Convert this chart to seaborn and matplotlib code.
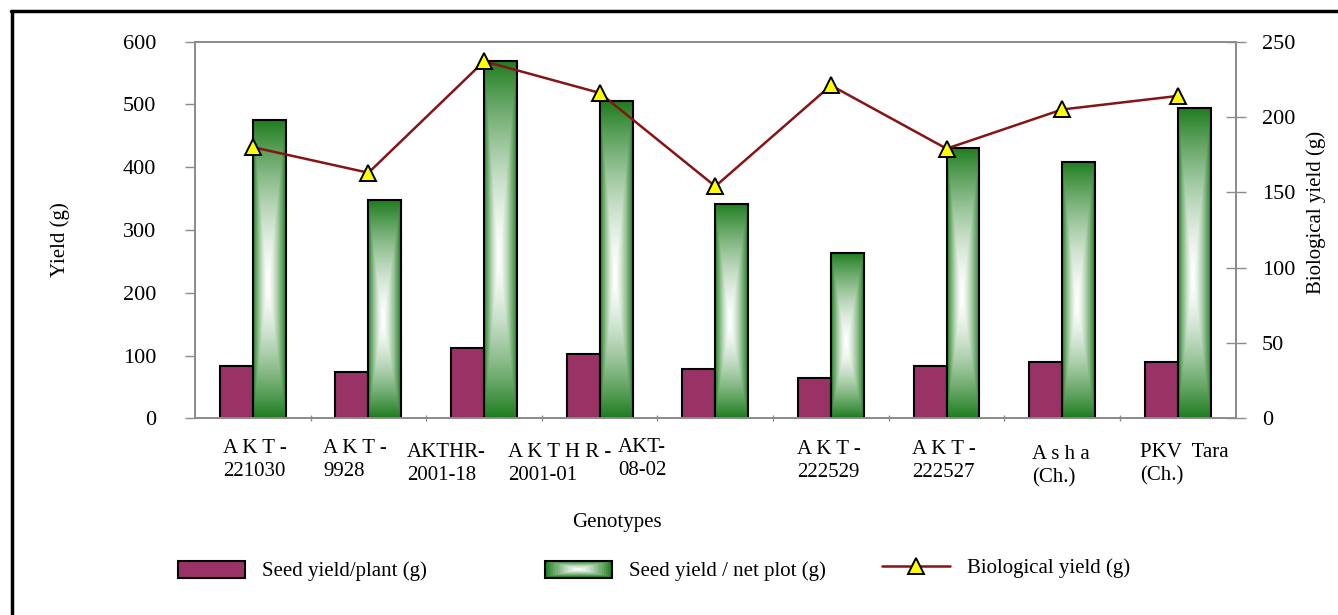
import numpy as np
import pandas as pd
import matplotlib
matplotlib.use("Agg")
import matplotlib.pyplot as plt
import matplotlib.transforms as mtransforms
from matplotlib.patches import Rectangle
from matplotlib.lines import Line2D
from matplotlib.legend_handler import HandlerBase
from matplotlib.colors import to_rgb
import seaborn as sns

# ---- data -------------------------------------------------------------
genotypes = ["AKT-221030", "AKT-9928", "AKTHR-2001-18", "AKTHR-2001-01",
             "AKT-08-02", "AKT-222529", "AKT-222527", "Asha (Ch.)", "PKV Tara (Ch.)"]
tick_labels = ["A K T -\n221030", "A K T -\n9928", "AKTHR-\n2001-18",
               "A K T H R -\n2001-01", "AKT-\n08-02", "A K T -\n222529",
               "A K T -\n222527", "A s h a\n(Ch.)", "PKV  Tara\n(Ch.)"]
seed_per_plant = [84, 74, 112, 103, 78, 65, 84, 90, 90]
seed_per_plot = [475, 347, 569, 505, 341, 264, 431, 408, 495]
biological = [180, 163, 237, 216, 154, 221, 179, 205, 214]

series_names = ["Seed yield/plant (g)", "Seed yield / net plot (g)"]
bio_name = "Biological yield (g)"

# ---- style ------------------------------------------------------------
sns.set_theme(style="white", rc={"text.color": "black",
                                 "axes.labelcolor": "black",
                                 "xtick.color": "black",
                                 "ytick.color": "black"})
plt.rcParams["font.family"] = ["Liberation Serif", "DejaVu Serif"]

PURPLE = "#993366"
GREEN = "#1f7d1f"
MAROON = "#861414"
YELLOW = "#ffff00"
SPINE = "#8c8c8c"

W, H, DPI = 1338, 615, 100
fig = plt.figure(figsize=(W / DPI, H / DPI), dpi=DPI)
ax_l, ax_r, ax_t, ax_b = 195, 1235.6, 41.7, 418.3
ax = fig.add_axes([ax_l / W, 1 - ax_b / H, (ax_r - ax_l) / W, (ax_b - ax_t) / H])

df = pd.DataFrame({
    "Genotype": genotypes * 2,
    "Series": [series_names[0]] * len(genotypes) + [series_names[1]] * len(genotypes),
    "Value": seed_per_plant + seed_per_plot,
})

sns.barplot(data=df, x="Genotype", y="Value", hue="Series", order=genotypes,
            hue_order=series_names, palette=[PURPLE, GREEN], saturation=1,
            width=0.57, errorbar=None, edgecolor="black", linewidth=1.5,
            legend=False, ax=ax)

# rectangular "from centre" gradient fill for the net-plot bars
def centre_gradient(n=256, cx=0.45, cy=0.45, power=1.5):
    u = np.linspace(0, 1, n)
    xx, yy = np.meshgrid(u, u)
    dx = np.where(xx < cx, (cx - xx) / cx, (xx - cx) / (1 - cx))
    dy = np.where(yy < cy, (cy - yy) / cy, (yy - cy) / (1 - cy))
    t = np.clip(np.maximum(dx, dy), 0, 1) ** power
    g = np.array(to_rgb(GREEN))
    return (1 - t)[..., None] * np.ones(3) + t[..., None] * g

grad = centre_gradient()
green_rgb = np.array(to_rgb(GREEN))
for p in list(ax.patches):
    fc = np.array(p.get_facecolor()[:3])
    if np.allclose(fc, green_rgb, atol=0.03):
        bb = p.get_bbox()
        im = ax.imshow(grad, extent=[bb.x0, bb.x1, bb.y0, bb.y1], origin="lower",
                       aspect="auto", interpolation="bilinear",
                       zorder=p.get_zorder() - 0.01)
        im.set_clip_path(p)
        p.set_facecolor("none")

# biological yield on the secondary axis
ax2 = ax.twinx()
sns.pointplot(x=genotypes, y=biological, order=genotypes, ax=ax2, color=MAROON,
              markers="^", linestyles="-", errorbar=None,
              linewidth=1.8, markersize=11, markeredgewidth=1.4)
for ln in ax2.lines:
    ln.set_markerfacecolor(YELLOW)
    ln.set_markeredgecolor("black")
    ln.set_zorder(5)

# ---- axes -------------------------------------------------------------
ax.set_xlim(-0.5, len(genotypes) - 0.5)
ax.set_ylim(0, 600)
ax2.set_ylim(0, 250)
ax.set_yticks(np.arange(0, 601, 100))
ax2.set_yticks(np.arange(0, 251, 50))
ax.set_xticks([])
ax.set_xticks(np.arange(0.5, len(genotypes) - 0.5, 1), minor=True)
ax.tick_params(axis="x", which="minor", direction="inout", length=5, width=1,
               color=SPINE, bottom=True)
ax.tick_params(axis="y", direction="out", length=7, width=1, color=SPINE,
               pad=21, labelsize=16, left=True)
ax2.tick_params(axis="y", direction="inout", length=14, width=1, color=SPINE,
                pad=12, labelsize=16, right=True)

for a in (ax, ax2):
    for s in a.spines.values():
        s.set_color(SPINE)
        s.set_linewidth(1.3)
        s.set_visible(True)

ax.set_xlabel("Genotypes", fontsize=15)
ax.xaxis.set_label_coords((617 - ax_l) / (ax_r - ax_l), (ax_b - 513) / (ax_b - ax_t))
ax.set_ylabel("Yield (g)", fontsize=15)
ax.yaxis.set_label_coords((70 - ax_l) / (ax_r - ax_l), (ax_b - 240) / (ax_b - ax_t))
ax2.set_ylabel(bio_name, fontsize=15)
ax2.yaxis.set_label_coords((1306 - ax_l) / (ax_r - ax_l), (ax_b - 212) / (ax_b - ax_t))

# category labels, left aligned under each group
label_dx = [-0.258, -0.393, -0.666, -0.792, -0.841, -0.292, -0.298, -0.26, -0.325]
label_dy = [0, 0, 4, 4, -1, 1, 1, 6, 4]
trans = mtransforms.blended_transform_factory(ax.transData, ax.transAxes)
for i, (lab, dx, dy) in enumerate(zip(tick_labels, label_dx, label_dy)):
    ax.text(i + dx, -(439 - ax_b + dy) / (ax_b - ax_t), lab, transform=trans,
            ha="left", va="top", fontsize=15, linespacing=1.3,
            multialignment="left")

# ---- legend -----------------------------------------------------------
class GradientPatchHandler(HandlerBase):
    def create_artists(self, legend, orig_handle, xdescent, ydescent,
                       width, height, fontsize, trans):
        x0, y0 = -xdescent, -ydescent
        arts = []
        steps = 16
        g = np.array(to_rgb(GREEN))
        for k in range(steps):
            f = k / steps
            t = (1 - f) ** 1.3
            c = (1 - t) * np.ones(3) + t * g
            r = Rectangle((x0 + f * width / 2, y0 + f * height / 2),
                          width * (1 - f), height * (1 - f),
                          facecolor=c, edgecolor="none", transform=trans)
            arts.append(r)
        arts.append(Rectangle((x0, y0), width, height, facecolor="none",
                              edgecolor="black", linewidth=1.5, transform=trans))
        return arts

fs = 15
em = fs * DPI / 72
h_purple = Rectangle((0, 0), 1, 1, facecolor=PURPLE, edgecolor="black", linewidth=1.5)
h_green = Rectangle((0, 0), 1, 1, facecolor=GREEN, edgecolor="black", linewidth=1.5)
h_line = Line2D([], [], color=MAROON, linewidth=1.8, marker="^", markersize=11,
                markerfacecolor=YELLOW, markeredgecolor="black", markeredgewidth=1.4)

common = dict(loc="center left", frameon=False, borderpad=0, borderaxespad=0,
              fontsize=fs, handletextpad=0.82, handleheight=18 / em)
fig.legend([h_purple], [series_names[0]], bbox_to_anchor=(178 / W, 1 - 571 / H),
           handlelength=67 / em, **common)
fig.legend([h_green], [series_names[1]], bbox_to_anchor=(545 / W, 1 - 571 / H),
           handlelength=67 / em, handler_map={h_green: GradientPatchHandler()}, **common)
fig.legend([h_line], [bio_name], bbox_to_anchor=(882 / W, 1 - 568 / H),
           handlelength=68 / em, numpoints=1, **common)

# outer frame
fig.add_artist(Line2D([11 / W, 1], [1 - 11 / H, 1 - 11 / H], color="black",
                      linewidth=2.5, transform=fig.transFigure))
fig.add_artist(Line2D([12 / W, 12 / W], [0, 1 - 11 / H], color="black",
                      linewidth=2.5, transform=fig.transFigure))

fig.savefig("out.png", dpi=DPI)
